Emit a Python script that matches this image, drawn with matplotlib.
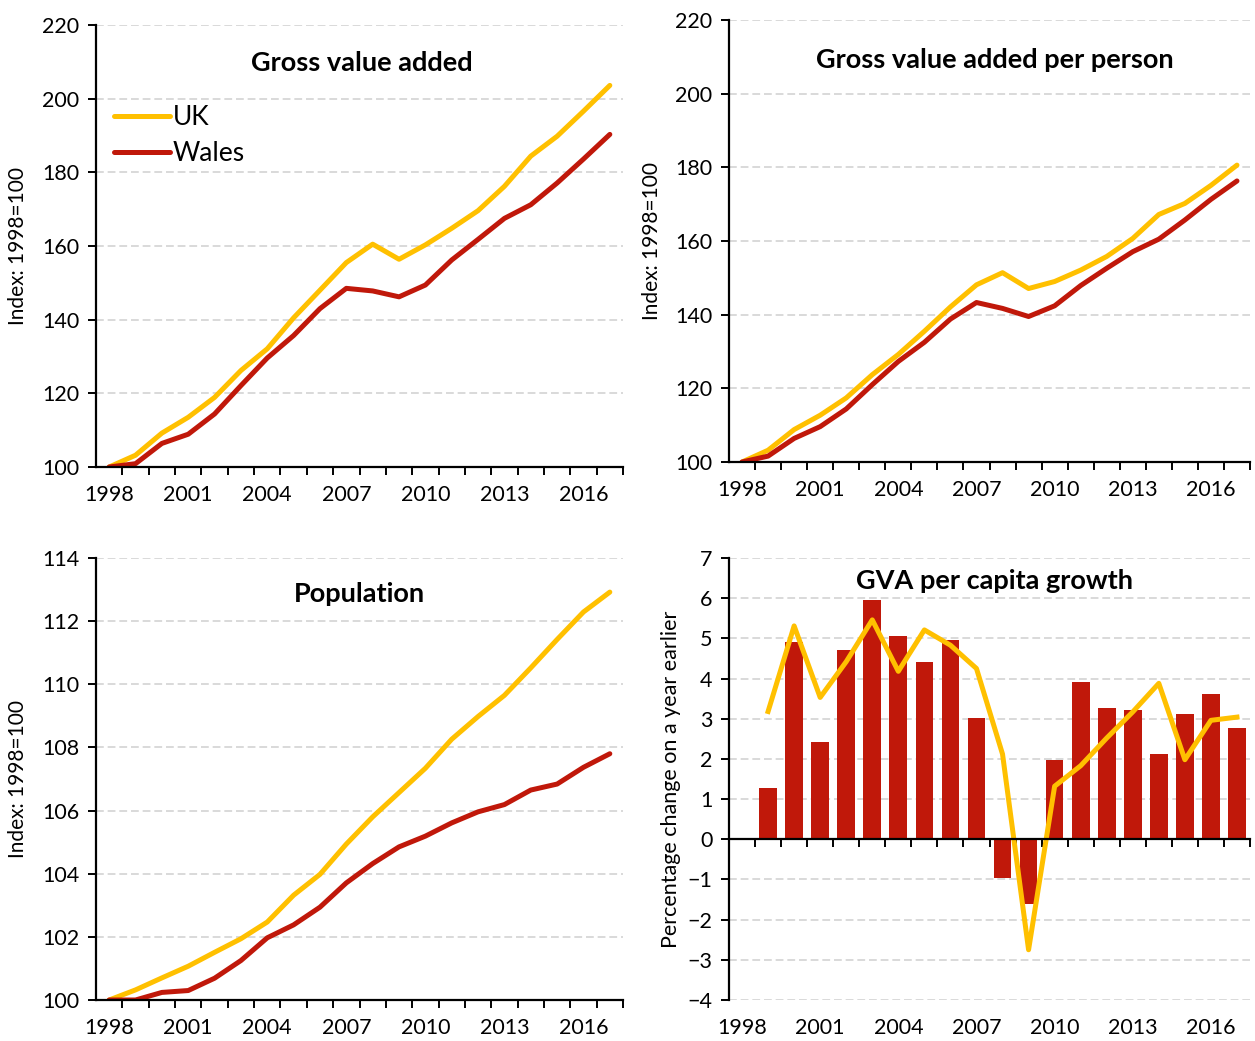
import matplotlib.pyplot as plt
import numpy as np

plt.rcParams['font.family'] = ['Lato', 'DejaVu Sans']

years = np.arange(1998, 2018)

# Gross value added, index 1998=100
gva_uk = [100, 103.2, 109.2, 113.5, 118.9, 126.2, 132.1, 140.5, 148.0, 155.5,
          160.5, 156.4, 160.3, 164.8, 169.6, 176.2, 184.4, 189.8, 196.6, 203.6]
gva_wales = [100, 100.9, 106.4, 108.9, 114.4, 122.1, 129.6, 135.7, 143.0, 148.5,
             147.8, 146.2, 149.4, 156.2, 161.8, 167.5, 171.2, 177.1, 183.6, 190.3]

# GVA per person, index 1998=100
gvapp_uk = [100, 103.2, 108.8, 112.7, 117.4, 123.7, 129.2, 135.5, 142.1, 148.1,
            151.4, 147.1, 149.0, 152.1, 155.8, 160.7, 167.2, 170.2, 175.1, 180.6]
gvapp_wales = [100, 101.6, 106.4, 109.6, 114.4, 121.0, 127.3, 132.5, 138.8, 143.3,
               141.7, 139.5, 142.4, 147.9, 152.6, 157.1, 160.5, 165.7, 171.3, 176.3]

# Population, index 1998=100
pop_uk = [100, 100.32, 100.70, 101.07, 101.51, 101.94, 102.47, 103.32, 103.98, 104.94,
          105.80, 106.57, 107.34, 108.26, 108.98, 109.65, 110.52, 111.42, 112.29, 112.92]
pop_wales = [100, 100.0, 100.24, 100.30, 100.69, 101.25, 101.97, 102.38, 102.94, 103.71,
             104.32, 104.85, 105.19, 105.61, 105.96, 106.19, 106.65, 106.84, 107.37, 107.80]

# GVA per capita growth, % change on a year earlier (1999-2017)
growth_years = np.arange(1999, 2018)
growth_wales = [1.27, 4.90, 2.42, 4.71, 5.96, 5.06, 4.41, 4.96, 3.01, -0.97,
                -1.62, 1.97, 3.91, 3.26, 3.21, 2.11, 3.12, 3.61, 2.77]
growth_uk = [3.18, 5.31, 3.53, 4.42, 5.46, 4.18, 5.21, 4.83, 4.25, 2.12,
             -2.75, 1.32, 1.83, 2.52, 3.17, 3.88, 1.98, 2.96, 3.04]

year_labels = ['1998', '2001', '2004', '2007', '2010', '2013', '2016']

UK_COL = '#FFC000'
WALES_COL = '#C0180A'
W, H = 1255, 1041

fig = plt.figure(figsize=(W / 100, H / 100), dpi=100)


def make_ax(left, top, width, height=442):
    return fig.add_axes([left / W, 1 - (top + height) / H, width / W, height / H])


def style(ax, ymin, ymax, step):
    ax.set_xlim(1997.5, 2017.5)
    ax.set_ylim(ymin, ymax)
    ax.set_yticks(np.arange(ymin, ymax + step / 2, step))
    for s in ['top', 'right']:
        ax.spines[s].set_visible(False)
    for s in ['left', 'bottom']:
        ax.spines[s].set_linewidth(1.6)
    ax.set_xticks([int(y) for y in year_labels])
    ax.set_xticklabels(year_labels)
    ax.set_xticks(np.arange(1998.5, 2017.6, 1), minor=True)
    ax.tick_params(axis='x', which='major', length=0, pad=13, labelsize=15.5)
    ax.tick_params(axis='x', which='minor', length=6, width=1.4, direction='out')
    ax.tick_params(axis='y', length=6, width=1.4, labelsize=15.5, pad=6)
    ax.yaxis.grid(True, color='#D9D9D9', linestyle=(0, (4, 2)), linewidth=1.4)
    ax.set_axisbelow(True)


# top-left: GVA
ax1 = make_ax(96, 25, 527)
style(ax1, 100, 220, 20)
ax1.plot(years, gva_uk, color=UK_COL, lw=3.6, label='UK', solid_capstyle='round')
ax1.plot(years, gva_wales, color=WALES_COL, lw=3.6, label='Wales', solid_capstyle='round')
ax1.text(0.505, 0.914, 'Gross value added', transform=ax1.transAxes, ha='center',
         va='center', fontsize=19.5, fontweight='bold')
ax1.set_ylabel('Index: 1998=100', fontsize=15)
ax1.yaxis.set_label_coords(-0.129, 0.5)
ax1.legend(loc='upper left', bbox_to_anchor=(0.0, 0.86), frameon=False, fontsize=19,
           handlelength=2.1, handletextpad=0.1, labelspacing=0.4, borderaxespad=0.3)

# top-right: GVA per person
ax2 = make_ax(729, 20, 521)
style(ax2, 100, 220, 20)
ax2.plot(years, gvapp_uk, color=UK_COL, lw=3.6, solid_capstyle='round')
ax2.plot(years, gvapp_wales, color=WALES_COL, lw=3.6, solid_capstyle='round')
ax2.text(0.51, 0.91, 'Gross value added per person', transform=ax2.transAxes,
         ha='center', va='center', fontsize=19.5, fontweight='bold')
ax2.set_ylabel('Index: 1998=100', fontsize=15)
ax2.yaxis.set_label_coords(-0.129, 0.5)

# bottom-left: population
ax3 = make_ax(96, 558, 527)
style(ax3, 100, 114, 2)
ax3.plot(years, pop_uk, color=UK_COL, lw=3.6, solid_capstyle='round')
ax3.plot(years, pop_wales, color=WALES_COL, lw=3.6, solid_capstyle='round')
ax3.text(0.5, 0.918, 'Population', transform=ax3.transAxes, ha='center',
         va='center', fontsize=19.5, fontweight='bold')
ax3.set_ylabel('Index: 1998=100', fontsize=15)
ax3.yaxis.set_label_coords(-0.129, 0.5)

# bottom-right: growth
ax4 = make_ax(729, 558, 521)
style(ax4, -4, 7, 1)
ax4.bar(growth_years, growth_wales, width=0.68, color=WALES_COL, zorder=2)
ax4.plot(growth_years, growth_uk, color=UK_COL, lw=3.6, zorder=3)
ax4.spines['bottom'].set_position(('data', 0))
ax4.spines['bottom'].set_zorder(4)
ax4.tick_params(axis='x', which='major', labelbottom=False)
sec = ax4.secondary_xaxis(-0.0)
sec.set_xticks([int(y) for y in year_labels])
sec.set_xticklabels(year_labels)
sec.spines['bottom'].set_visible(False)
sec.tick_params(axis='x', length=0, pad=13, labelsize=15.5)
ax4.text(0.51, 0.948, 'GVA per capita growth', transform=ax4.transAxes, ha='center',
         va='center', fontsize=19.5, fontweight='bold')
ax4.set_ylabel('Percentage change on a year earlier', fontsize=15.5)
ax4.yaxis.set_label_coords(-0.092, 0.5)

fig.savefig('out.png', dpi=100)
